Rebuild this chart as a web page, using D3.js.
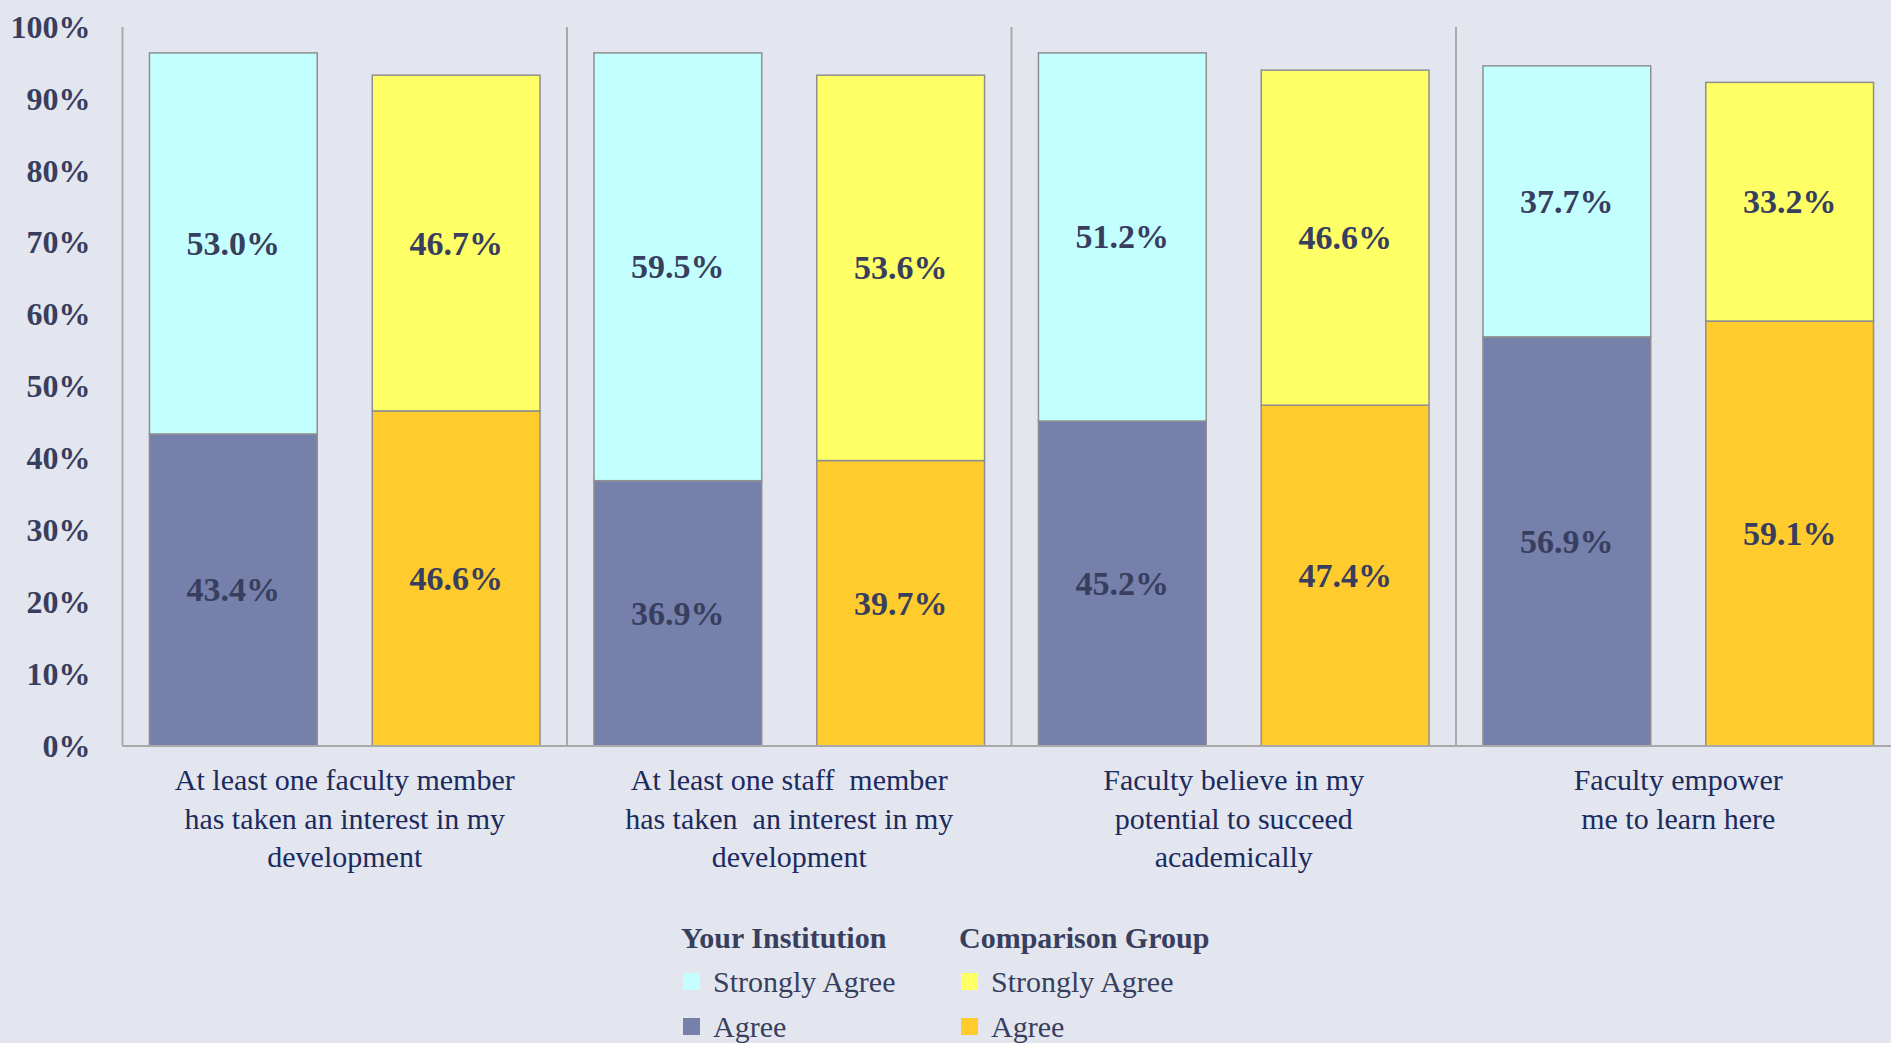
<!DOCTYPE html>
<html>
<head>
<meta charset="utf-8">
<script src="https://cdn.jsdelivr.net/npm/d3@7"></script>
<style>
  html, body { margin: 0; padding: 0; background: #e3e6ee; }
  svg { display: block; font-family: "Liberation Serif", "DejaVu Serif", serif; }
</style>
</head>
<body>
<div id="chart"></div>
<script>
// categories, one per group (line breaks kept as in the picture)
const categories = [
  ['At least one faculty member', 'has taken an interest in my', 'development'],
  ['At least one staff  member', 'has taken  an interest in my', 'development'],
  ['Faculty believe in my', 'potential to succeed', 'academically'],
  ['Faculty empower', 'me to learn here']
];
const seriesGroups = ['Your Institution', 'Comparison Group'];
const instAgree = [43.4, 36.9, 45.2, 56.9];
const instStrongly = [53.0, 59.5, 51.2, 37.7];
const compAgree = [46.6, 39.7, 47.4, 59.1];
const compStrongly = [46.7, 53.6, 46.6, 33.2];
const yTicks = [0, 10, 20, 30, 40, 50, 60, 70, 80, 90, 100];

const colors = {
  instAgree: '#7580ab',
  instStrongly: '#c4ffff',
  compAgree: '#ffcb2d',
  compStrongly: '#ffff66'
};

const W = 1891, H = 1043;
const margin = { top: 27, left: 122.5 };
const plotBottom = 746;
const groupStep = 444.5;

const svg = d3.select('#chart').append('svg')
  .attr('width', W)
  .attr('height', H);

svg.append('rect').attr('width', W).attr('height', H).attr('fill', '#e3e6ee');

const x0 = d3.scaleBand()
  .domain(d3.range(categories.length))
  .range([margin.left, margin.left + groupStep * categories.length])
  .padding(0);

const x1 = d3.scaleBand()
  .domain(seriesGroups)
  .range([0, x0.bandwidth()])
  .paddingInner(0.247)
  .paddingOuter(0.121);

const y = d3.scaleLinear()
  .domain([0, 100])
  .range([plotBottom, margin.top]);

// stacked rows: one per bar
const rows = [];
categories.forEach((c, i) => {
  rows.push({ g: i, s: 'Your Institution', parts: [
    { v0: 0, v1: instAgree[i], val: instAgree[i], fill: colors.instAgree },
    { v0: instAgree[i], v1: instAgree[i] + instStrongly[i], val: instStrongly[i], fill: colors.instStrongly }
  ]});
  rows.push({ g: i, s: 'Comparison Group', parts: [
    { v0: 0, v1: compAgree[i], val: compAgree[i], fill: colors.compAgree },
    { v0: compAgree[i], v1: compAgree[i] + compStrongly[i], val: compStrongly[i], fill: colors.compStrongly }
  ]});
});

// y axis
const yAxis = svg.append('g')
  .attr('transform', `translate(${margin.left},0)`)
  .call(d3.axisLeft(y).tickValues(yTicks).tickSize(0).tickPadding(32).tickFormat(d => d + '%'));
yAxis.select('.domain').remove();
yAxis.selectAll('text')
  .attr('font-family', '"Liberation Serif", serif')
  .attr('font-size', 32)
  .attr('font-weight', 'bold')
  .attr('fill', '#383e5e');

// group separators
svg.append('g').selectAll('line')
  .data(d3.range(categories.length))
  .join('line')
  .attr('x1', d => x0(d)).attr('x2', d => x0(d))
  .attr('y1', y(100)).attr('y2', plotBottom)
  .attr('stroke', '#a9a9a9')
  .attr('stroke-width', 2);

// bars
const barG = svg.append('g').selectAll('g')
  .data(rows)
  .join('g')
  .attr('transform', d => `translate(${x0(d.g) + x1(d.s)},0)`);

barG.selectAll('rect')
  .data(d => d.parts)
  .join('rect')
  .attr('x', 0)
  .attr('width', x1.bandwidth())
  .attr('y', d => y(d.v1))
  .attr('height', d => y(d.v0) - y(d.v1))
  .attr('fill', d => d.fill)
  .attr('stroke', '#8f8f8f')
  .attr('stroke-width', 1.5);

barG.selectAll('text')
  .data(d => d.parts)
  .join('text')
  .attr('x', x1.bandwidth() / 2)
  .attr('y', d => (y(d.v0) + y(d.v1)) / 2)
  .attr('text-anchor', 'middle')
  .attr('dominant-baseline', 'central')
  .attr('font-size', 34)
  .attr('font-weight', 'bold')
  .attr('fill', '#383e5e')
  .text(d => d.val.toFixed(1) + '%');

// baseline
svg.append('line')
  .attr('x1', margin.left).attr('x2', W)
  .attr('y1', plotBottom).attr('y2', plotBottom)
  .attr('stroke', '#a9a9a9')
  .attr('stroke-width', 2);

// category labels
const catG = svg.append('g').selectAll('text')
  .data(categories)
  .join('text')
  .attr('x', (d, i) => x0(i) + x0.bandwidth() / 2)
  .attr('y', 790)
  .attr('text-anchor', 'middle')
  .attr('font-size', 30)
  .attr('fill', '#1c2b5e')
  .style('white-space', 'pre');

catG.selectAll('tspan')
  .data(d => d)
  .join('tspan')
  .attr('x', function () { return this.parentNode.getAttribute('x'); })
  .attr('dy', (d, i) => i === 0 ? 0 : 38.5)
  .text(d => d);

// legend
const legendCols = [
  { title: 'Your Institution', x: 681, items: [
    { label: 'Strongly Agree', fill: colors.instStrongly },
    { label: 'Agree', fill: colors.instAgree }
  ]},
  { title: 'Comparison Group', x: 959, items: [
    { label: 'Strongly Agree', fill: colors.compStrongly },
    { label: 'Agree', fill: colors.compAgree }
  ]}
];

const lg = svg.append('g').selectAll('g')
  .data(legendCols)
  .join('g')
  .attr('transform', d => `translate(${d.x},0)`);

lg.append('text')
  .attr('x', 0)
  .attr('y', 948)
  .attr('font-size', 30)
  .attr('font-weight', 'bold')
  .attr('fill', '#383e5e')
  .text(d => d.title);

const li = lg.selectAll('g.item')
  .data(d => d.items)
  .join('g')
  .attr('class', 'item')
  .attr('transform', (d, i) => `translate(0,${973 + i * 45})`);

li.append('rect')
  .attr('x', 2)
  .attr('width', 17)
  .attr('height', 17)
  .attr('fill', d => d.fill);

li.append('text')
  .attr('x', 32)
  .attr('y', 19)
  .attr('font-size', 30)
  .attr('fill', '#383e5e')
  .text(d => d.label);
</script>
</body>
</html>
